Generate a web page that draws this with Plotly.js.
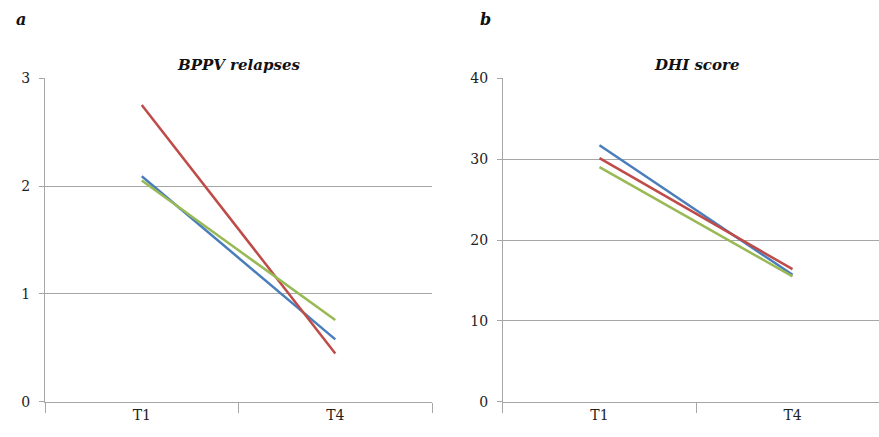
<!DOCTYPE html>
<html><head><meta charset="utf-8">
<script src="https://cdn.plot.ly/plotly-3.0.1.min.js"></script>
<style>html,body{margin:0;padding:0;background:#fff}#chart{width:879px;height:437px}</style>
</head><body><div id="chart"></div>
<script>
const categories = ['T1', 'T4'];
const bppvBlue = [2.09, 0.58];
const bppvRed = [2.75, 0.45];
const bppvGreen = [2.05, 0.76];
const dhiBlue = [31.7, 15.7];
const dhiRed = [30.1, 16.4];
const dhiGreen = [29.0, 15.5];
const bppvTicks = [0, 1, 2, 3];
const dhiTicks = [0, 10, 20, 30, 40];

const BLUE = '#4a7ebb', RED = '#be4b48', GREEN = '#98b954';
const FONT = 'DejaVu Serif';
const GRID = '#a6a6a6';

function tr(y, color, xa, ya) {
  return {x: categories, y: y, type: 'scatter', mode: 'lines', xaxis: xa, yaxis: ya,
    line: {color: color, width: 2.5}, hoverinfo: 'skip'};
}
const data = [
  tr(bppvBlue, BLUE, 'x', 'y'), tr(bppvRed, RED, 'x', 'y'), tr(bppvGreen, GREEN, 'x', 'y'),
  tr(dhiBlue, BLUE, 'x2', 'y2'), tr(dhiRed, RED, 'x2', 'y2'), tr(dhiGreen, GREEN, 'x2', 'y2')
];
const xBase = {type: 'category', tickson: 'boundaries', ticks: 'outside', ticklen: 10, tickcolor: GRID,
  showline: true, linecolor: GRID, linewidth: 1, showgrid: false, zeroline: false,
  tickfont: {family: FONT, size: 14, color: '#222'}, fixedrange: true};
const yBase = {ticks: 'outside', ticklen: 5, tickcolor: GRID, showline: true, linecolor: GRID,
  showgrid: true, gridcolor: GRID, gridwidth: 1, zeroline: false, tickmode: 'array',
  tickfont: {family: FONT, size: 14, color: '#222'}, ticklabelstandoff: 6, domain: [0.0801, 0.8215]};
const layout = {
  width: 879, height: 437, margin: {l: 0, r: 0, t: 0, b: 0},
  font: {family: FONT},
  paper_bgcolor: '#fff', plot_bgcolor: '#fff', showlegend: false,
  xaxis: Object.assign({}, xBase, {domain: [0.0512, 0.4915], range: [-0.5, 1.5], anchor: 'y'}),
  xaxis2: Object.assign({}, xBase, {domain: [0.5722, 1], range: [-0.5, 1.448], anchor: 'y2'}),
  yaxis: Object.assign({}, yBase, {range: [0, 3], tickvals: bppvTicks, anchor: 'x'}),
  yaxis2: Object.assign({}, yBase, {range: [0, 40], tickvals: dhiTicks, anchor: 'x2'}),
  annotations: [
    {text: '<b><i>a</i></b>', xref: 'paper', yref: 'paper', x: 14/879, y: 1 - 20/437, xanchor: 'left', yanchor: 'middle', showarrow: false, font: {family: FONT, size: 16, color: '#111'}},
    {text: '<b><i>b</i></b>', xref: 'paper', yref: 'paper', x: 478/879, y: 1 - 20/437, xanchor: 'left', yanchor: 'middle', showarrow: false, font: {family: FONT, size: 16, color: '#111'}},
    {text: '<b><i>BPPV relapses</i></b>', xref: 'paper', yref: 'paper', x: 238/879, y: 1 - 65/437, xanchor: 'center', yanchor: 'middle', showarrow: false, font: {family: FONT, size: 15, color: '#111'}},
    {text: '<b><i>DHI score</i></b>', xref: 'paper', yref: 'paper', x: 696/879, y: 1 - 65/437, xanchor: 'center', yanchor: 'middle', showarrow: false, font: {family: FONT, size: 15, color: '#111'}}
  ]
};
Plotly.newPlot('chart', data, layout, {displayModeBar: false, staticPlot: true});
</script>
</body></html>
